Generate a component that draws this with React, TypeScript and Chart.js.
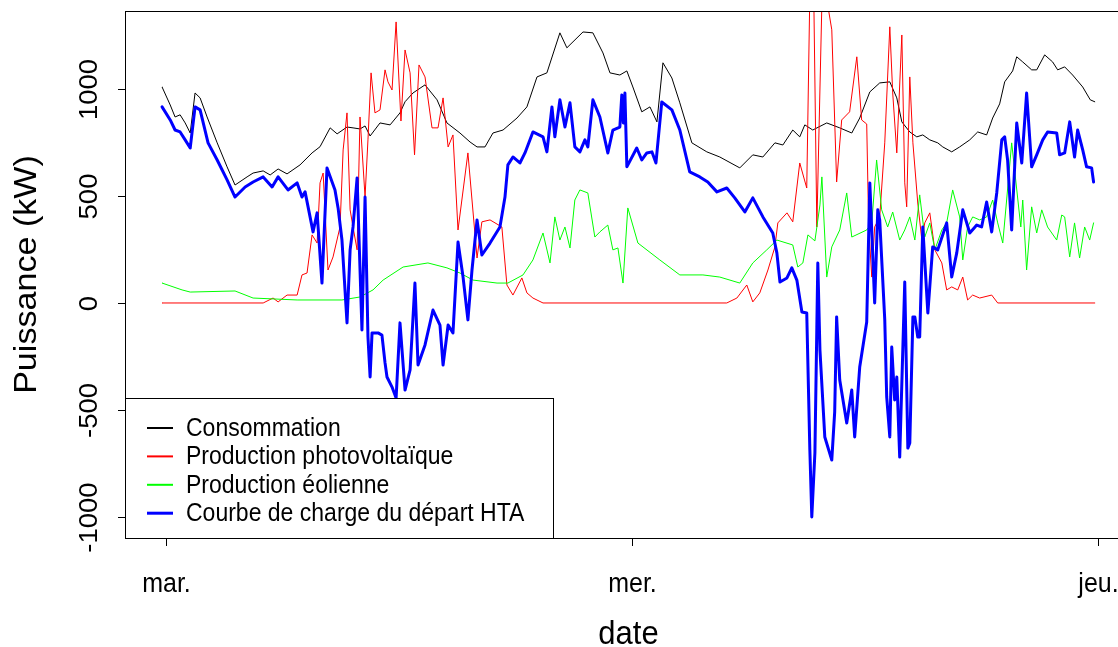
import { useEffect, useRef } from "react";
import { Chart, registerables } from "chart.js";

Chart.register(...registerables);

const FONT = '"Liberation Sans", Arial, Helvetica, sans-serif';
const TEXT_STRETCH = 1.1;

// x axis: hours since Tuesday 00:00
const dayTicks = [0, 24, 48];
const dayLabels = ["mar.", "mer.", "jeu."];
const yTicks = [-1000, -500, 0, 500, 1000];
const xTitle = "date";
const yTitle = "Puissance (kW)";
const seriesNames = [
  "Consommation",
  "Production photovoltaïque",
  "Production éolienne",
  "Courbe de charge du départ HTA",
];
const seriesColors = ["#000000", "#ff0000", "#00ff00", "#0000ff"];

const consT = [-0.21,0.21,0.46,0.72,0.98,1.24,1.49,1.75,2.11,2.63,3.14,3.55,4.17,4.48,5.00,5.36,5.77,6.23,6.90,7.52,7.93,8.45,8.81,9.32,9.63,9.99,10.25,10.51,11.02,11.54,12.05,12.31,12.72,13.34,13.96,14.47,15.14,15.66,16.02,16.43,16.84,17.36,18.08,18.59,19.11,19.62,20.29,20.65,21.48,21.99,22.51,22.87,23.38,23.74,24.05,24.51,24.93,25.29,25.60,26.06,26.47,27.09,27.86,28.53,29.56,30.23,30.75,31.37,31.78,32.29,32.65,32.91,33.32,34.04,34.71,35.33,35.74,36.26,36.77,37.29,37.65,37.91,38.32,38.68,38.99,39.35,39.76,40.02,40.48,40.89,41.41,41.82,42.28,42.59,42.95,43.21,43.62,43.83,44.14,44.60,44.86,45.27,45.68,45.94,46.30,46.71,47.23,47.62,47.85];
const consV = [1009,925,869,879,841,794,981,958,869,748,636,551,589,607,617,598,626,603,645,701,730,818,790,822,818,813,827,780,841,832,888,940,981,1019,949,841,794,752,729,729,794,808,864,916,1056,1075,1262,1192,1266,1262,1168,1075,1065,1084,1009,893,916,846,1122,1051,935,748,706,682,631,692,682,748,738,808,776,832,808,841,818,794,864,986,1028,1033,958,846,799,776,785,762,748,729,706,729,762,799,785,864,930,1033,1084,1150,1126,1089,1089,1159,1126,1089,1103,1065,1009,949,940];

const pvT = [-0.21,5.00,5.51,5.77,6.23,6.75,7.00,7.26,7.52,7.78,7.93,8.09,8.34,8.60,8.96,9.12,9.32,9.48,9.63,9.84,9.99,10.25,10.40,10.56,10.76,11.02,11.28,11.43,11.64,11.85,12.10,12.31,12.57,12.80,13.03,13.34,13.70,14.01,14.27,14.53,14.78,15.04,15.55,16.02,16.27,16.69,17.30,17.56,17.87,18.33,18.59,18.90,19.42,28.89,29.41,29.92,30.23,30.59,31.01,31.37,31.52,31.99,32.29,32.65,33.01,33.17,33.37,33.53,33.79,34.04,34.30,34.55,34.81,35.22,35.59,35.84,36.10,36.20,36.36,36.51,36.77,37.03,37.29,37.44,37.65,37.91,38.06,38.16,38.32,38.48,38.73,38.94,39.09,39.35,39.61,39.97,40.22,40.48,40.79,41.05,41.30,41.56,41.92,42.54,42.85,47.85];
const pvV = [0,0,23,5,37,37,131,140,318,280,561,607,154,215,355,715,888,435,355,248,869,495,762,1075,888,902,1089,1033,995,1313,850,1182,1075,692,1112,1056,818,818,958,729,785,341,701,210,379,388,355,84,37,117,47,23,0,0,23,84,5,47,154,262,374,421,379,654,537,1450,1450,355,1400,1420,1276,565,855,893,1150,855,836,364,121,355,402,748,1290,981,701,1252,561,449,1056,748,467,294,374,421,248,187,61,75,61,121,14,37,23,37,0,0];

const windT = [-0.21,0.82,1.24,3.55,4.48,6.75,9.06,9.99,10.66,11.18,12.21,13.49,14.47,15.14,15.81,17.05,17.61,18.39,18.90,19.42,19.78,20.03,20.29,20.55,20.81,21.06,21.32,21.73,22.09,22.35,22.76,23.02,23.28,23.54,23.79,24.31,25.44,26.47,27.66,28.53,29.56,30.23,30.95,31.47,32.29,32.55,32.81,33.07,33.43,33.69,33.79,34.04,34.30,34.71,35.07,35.33,36.10,36.36,36.61,36.87,37.18,37.44,37.80,38.06,38.32,38.58,38.83,39.09,39.35,39.61,39.97,40.22,40.53,40.89,41.05,41.30,41.56,41.92,42.28,42.59,42.85,43.11,43.31,43.57,44.04,44.14,44.34,44.60,44.86,45.12,45.42,45.89,46.15,46.30,46.56,46.81,47.07,47.33,47.59,47.79];
const windV = [93,61,51,56,23,14,14,28,61,107,168,187,164,140,107,93,93,131,201,327,187,402,294,355,257,481,528,514,308,332,364,248,257,93,444,280,201,131,131,121,93,187,248,294,271,168,187,318,290,458,589,121,262,341,514,308,341,374,668,435,355,425,294,341,402,294,505,308,374,248,341,374,528,402,201,355,402,388,402,481,374,280,481,748,355,481,154,449,327,435,355,294,411,402,215,374,210,355,294,374];

const netT = [-0.21,0.21,0.46,0.72,0.98,1.24,1.49,1.75,2.16,2.63,3.14,3.55,4.07,4.48,5.00,5.46,5.77,6.28,6.75,7.00,7.16,7.57,7.78,8.03,8.29,8.70,8.86,9.06,9.32,9.48,9.63,9.84,10.09,10.25,10.40,10.51,10.61,10.92,11.12,11.28,11.38,11.64,11.85,12.05,12.31,12.57,12.82,12.98,13.34,13.75,14.11,14.27,14.53,14.78,15.04,15.30,15.55,15.76,16.02,16.27,16.69,17.20,17.46,17.61,17.87,18.23,18.49,18.90,19.42,19.62,19.88,20.03,20.29,20.55,20.81,21.06,21.32,21.58,21.73,21.99,22.35,22.76,23.02,23.38,23.48,23.56,23.64,23.74,24.25,24.51,24.77,25.03,25.24,25.54,26.06,26.47,26.98,27.50,27.91,28.38,28.89,29.30,29.82,30.23,30.75,31.26,31.47,31.63,31.99,32.24,32.50,32.76,33.01,33.17,33.27,33.43,33.53,33.58,33.69,33.94,34.30,34.45,34.55,34.71,35.07,35.33,35.48,35.74,36.10,36.26,36.51,36.67,36.77,37.03,37.13,37.29,37.39,37.54,37.65,37.80,38.06,38.22,38.32,38.48,38.58,38.73,38.83,38.99,39.25,39.50,39.76,40.22,40.48,40.74,41.05,41.41,41.77,42.02,42.28,42.54,42.80,43.06,43.21,43.36,43.57,43.83,44.09,44.34,44.60,44.86,45.17,45.42,45.89,46.04,46.30,46.56,46.81,46.97,47.23,47.43,47.69,47.79];
const netV = [916,855,808,799,762,724,916,902,748,668,575,495,542,565,589,542,589,528,561,495,519,332,421,93,631,528,444,294,-93,248,355,584,-126,495,-159,-346,-140,-140,-150,-280,-346,-393,-444,-93,-407,-313,93,-290,-196,-33,-103,-290,-103,-140,285,121,-79,154,388,224,280,355,495,645,682,654,701,799,776,706,916,776,949,822,935,729,706,762,729,949,869,701,808,822,972,841,981,636,724,668,701,706,654,939,902,808,612,589,565,519,537,491,425,491,402,327,234,98,117,164,107,-42,-47,-687,-1000,-701,-112,187,-220,-626,-734,-509,-65,-360,-561,-407,-626,-299,-89,561,0,435,388,-79,-439,-626,-206,-453,-346,-720,98,-678,-654,-65,-65,-159,-159,355,-47,262,248,374,121,234,435,327,364,355,472,332,514,762,776,668,341,841,654,981,636,692,762,799,794,692,701,846,682,808,715,636,631,565];

const X_MIN = -2.12;
const X_MAX = 49.77;
const Y_MIN = -1098;
const Y_MAX = 1364;

function zip(t: number[], v: number[]) {
  const n = Math.min(t.length, v.length);
  const out: { x: number; y: number }[] = [];
  for (let i = 0; i < n; i++) out.push({ x: t[i], y: v[i] });
  return out;
}

function drawText(ctx: CanvasRenderingContext2D, text: string, x: number, y: number, rotate: boolean) {
  ctx.save();
  ctx.translate(x, y);
  ctx.scale(1, TEXT_STRETCH);
  if (rotate) ctx.rotate(-Math.PI / 2);
  ctx.fillText(text, 0, 0);
  ctx.restore();
}

const decorPlugin = {
  id: "rDecor",
  afterDatasetsDraw(chart: any) {
    const { ctx, chartArea: a, scales } = chart;
    const xs = scales.x;
    const ys = scales.y;
    ctx.save();
    ctx.strokeStyle = "#000";
    ctx.fillStyle = "#000";
    ctx.lineWidth = 1;
    ctx.strokeRect(Math.round(a.left) + 0.5, Math.round(a.top) + 0.5, Math.round(a.right - a.left), Math.round(a.bottom - a.top));

    ctx.font = `25px ${FONT}`;
    ctx.textAlign = "center";
    ctx.textBaseline = "alphabetic";
    yTicks.forEach((v) => {
      const py = Math.round(ys.getPixelForValue(v)) + 0.5;
      ctx.beginPath();
      ctx.moveTo(a.left - 7, py);
      ctx.lineTo(a.left, py);
      ctx.stroke();
      drawText(ctx, String(v), 97, py, true);
    });

    dayTicks.forEach((h, i) => {
      const px = Math.round(xs.getPixelForValue(h)) + 0.5;
      ctx.beginPath();
      ctx.moveTo(px, a.bottom);
      ctx.lineTo(px, a.bottom + 8);
      ctx.stroke();
      drawText(ctx, dayLabels[i], px, 592, false);
    });

    ctx.font = `31px ${FONT}`;
    drawText(ctx, xTitle, (a.left + a.right) / 2, 644, false);
    drawText(ctx, yTitle, 36, (a.top + a.bottom) / 2, true);

    const lx = a.left;
    const ly = 398;
    const lw = 428;
    const lh = a.bottom - ly;
    ctx.fillStyle = "#fff";
    ctx.fillRect(lx, ly, lw, lh);
    ctx.strokeStyle = "#000";
    ctx.lineWidth = 1;
    ctx.strokeRect(lx + 0.5, ly + 0.5, lw, lh);
    ctx.font = `23px ${FONT}`;
    ctx.textAlign = "left";
    ctx.textBaseline = "middle";
    seriesNames.forEach((name, i) => {
      const yy = 428 + i * 28.4;
      ctx.strokeStyle = seriesColors[i];
      ctx.lineWidth = i === 3 ? 3 : 2;
      ctx.beginPath();
      ctx.moveTo(147, yy);
      ctx.lineTo(173, yy);
      ctx.stroke();
      ctx.fillStyle = "#000";
      drawText(ctx, name, 186, yy + 1, false);
    });
    ctx.restore();
  },
};

export default function App() {
  const ref = useRef<HTMLCanvasElement | null>(null);
  useEffect(() => {
    if (!ref.current) return;
    const series = [
      { t: consT, v: consV, w: 1 },
      { t: pvT, v: pvV, w: 1 },
      { t: windT, v: windV, w: 1 },
      { t: netT, v: netV, w: 3 },
    ];
    const chart = new Chart(ref.current, {
      type: "line",
      data: {
        datasets: series.map((s, i) => ({
          label: seriesNames[i],
          data: zip(s.t, s.v),
          borderColor: seriesColors[i],
          backgroundColor: seriesColors[i],
          borderWidth: s.w,
          pointRadius: 0,
          tension: 0,
          fill: false,
          borderJoinStyle: "round" as const,
          borderCapStyle: "round" as const,
          order: 3 - i,
        })),
      },
      options: {
        responsive: false,
        animation: false,
        devicePixelRatio: 1,
        layout: { padding: { left: 125, top: 11, right: 28, bottom: 109 } },
        plugins: { legend: { display: false }, tooltip: { enabled: false } },
        events: [],
        scales: {
          x: { type: "linear", min: X_MIN, max: X_MAX, display: false },
          y: { type: "linear", min: Y_MIN, max: Y_MAX, display: false },
        },
      },
      plugins: [decorPlugin],
    });
    return () => chart.destroy();
  }, []);
  return (
    <div style={{ position: "fixed", left: 0, top: 0, width: 1118, height: 647, overflow: "hidden", background: "#fff" }}>
      <canvas ref={ref} width={1160} height={647} style={{ display: "block" }} />
    </div>
  );
}
